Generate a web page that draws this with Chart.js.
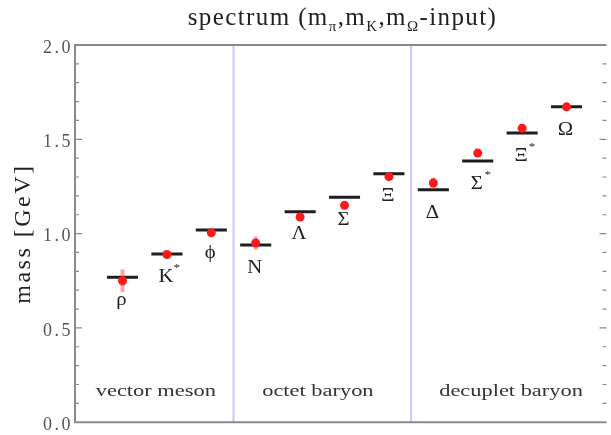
<!DOCTYPE html>
<html lang="en">
<head>
<meta charset="UTF-8">
<title>spectrum</title>
<script src="https://cdn.jsdelivr.net/npm/chart.js"></script>
<style>
  body { margin: 0; background: #fff; }
  #wrap { position: relative; width: 611px; height: 435px; }
  #title { position: absolute; left: 75px; width: 535px; top: 3px; text-align: center;
           font-family: "Liberation Serif", serif; font-size: 25px; color: #222; letter-spacing: 1.4px; }
  #title sub { font-size: 15px; }
</style>
</head>
<body>
<div id="wrap">
  <div id="title">spectrum (m<sub>π</sub>,m<sub>K</sub>,m<sub>Ω</sub>-input)</div>
  <canvas id="chart"></canvas>
</div>
<script>
const hadrons = ['ρ', 'K*', 'ϕ', 'N', 'Λ', 'Σ', 'Ξ', 'Δ', 'Σ*', 'Ξ*', 'Ω'];
const hadronPos = [1, 2, 3, 4, 5, 6, 7, 8, 9, 10, 11];
const expMass = [0.768, 0.892, 1.019, 0.939, 1.116, 1.193, 1.318, 1.232, 1.385, 1.533, 1.672];
const latMass = [0.750, 0.889, 1.004, 0.950, 1.088, 1.150, 1.302, 1.268, 1.427, 1.558, 1.672];
const latErr = [0.060, 0.008, 0.006, 0.035, 0.010, 0.012, 0.010, 0.030, 0.014, 0.012, 0.004];
const groups = ['vector meson', 'octet baryon', 'decuplet baryon'];
const groupPos = [1.75, 5.4, 9.75];
const dividers = [3.5, 7.5];
const yTicks = [0, 0.5, 1.0, 1.5, 2.0];

const SERIF = '"Liberation Serif", "Times New Roman", serif';

// experimental values: short horizontal segments
const barData = [];
hadronPos.forEach((x, i) => {
  barData.push({x: x - 0.35, y: expMass[i]}, {x: x + 0.35, y: expMass[i]}, {x: x, y: null});
});
// lattice error bars
const errData = [];
hadronPos.forEach((x, i) => {
  errData.push({x: x, y: latMass[i] - latErr[i]}, {x: x, y: latMass[i] + latErr[i]}, {x: x, y: null});
});
const divData = [];
dividers.forEach(x => {
  divData.push({x: x, y: 0}, {x: x, y: 2}, {x: x, y: null});
});

function stretchText(ctx, text, x, y, font, sx, align) {
  ctx.save();
  ctx.font = font;
  ctx.textAlign = align || 'center';
  ctx.textBaseline = 'middle';
  ctx.translate(x, y);
  ctx.scale(sx, 1);
  ctx.fillText(text, 0, 0);
  ctx.restore();
}

const decor = {
  id: 'decor',
  beforeDraw(chart) { chart.ctx.letterSpacing = '2.5px'; },
  afterDatasetsDraw(chart) {
    const {ctx, scales: {x, y}} = chart;
    ctx.letterSpacing = '0px';
    ctx.fillStyle = '#222';
    hadrons.forEach((name, i) => {
      const px = x.getPixelForValue(hadronPos[i]);
      const py = y.getPixelForValue(expMass[i]) + 23;
      const base = name.replace('*', '');
      stretchText(ctx, base, px - 1, py, '18px ' + SERIF, 1.15);
      if (name.endsWith('*')) {
        stretchText(ctx, '*', px + 10, py - 9, '11px ' + SERIF, 1.2);
      }
    });
    ctx.fillStyle = '#333';
    groups.forEach((g, i) => {
      stretchText(ctx, g, x.getPixelForValue(groupPos[i]), 392, '16px ' + SERIF, 1.4);
    });
  },
  afterDraw(chart) {
    const {ctx, chartArea: a, scales: {y}} = chart;
    ctx.save();
    ctx.strokeStyle = '#8a8a8a';
    ctx.lineWidth = 2;
    ctx.beginPath();
    ctx.moveTo(a.right, a.top); ctx.lineTo(a.left, a.top);
    ctx.lineTo(a.left, a.bottom); ctx.lineTo(a.right, a.bottom);
    ctx.stroke();
    ctx.lineWidth = 1.2;
    ctx.beginPath();
    for (let k = 1; k < 20; k++) {
      const py = y.getPixelForValue(k / 10);
      const len = k % 5 === 0 ? 7 : 4;
      ctx.moveTo(a.left, py); ctx.lineTo(a.left + len, py);
      ctx.moveTo(a.right, py); ctx.lineTo(a.right - len, py);
    }
    ctx.stroke();
    ctx.restore();
  }
};

new Chart(document.getElementById('chart'), {
  type: 'line',
  data: {
    datasets: [
      { data: divData, borderColor: '#c6c9ff', borderWidth: 2, pointRadius: 0, spanGaps: false, order: 4 },
      { data: barData, borderColor: '#1e1e1e', borderWidth: 3, pointRadius: 0, spanGaps: false, order: 3 },
      { data: errData, borderColor: 'rgba(255,50,50,0.45)', borderWidth: 4, pointRadius: 0, spanGaps: false, order: 2 },
      { type: 'scatter', data: latMass.map((m, i) => ({x: hadronPos[i], y: m})),
        backgroundColor: '#ff1a1a', borderColor: '#ff1a1a', pointRadius: 4.5, borderWidth: 0, order: 1 }
    ]
  },
  options: {
    responsive: true,
    maintainAspectRatio: false,
    animation: false,
    layout: { padding: { top: 45, bottom: 11, left: 0, right: 1 } },
    plugins: { legend: { display: false }, tooltip: { enabled: false } },
    scales: {
      x: { type: 'linear', min: -0.07, max: 11.9, display: false },
      y: {
        min: 0, max: 2,
        afterFit(s) { s.width = 75; },
        afterBuildTicks(s) { s.ticks = yTicks.map(v => ({value: v})); },
        grid: { display: false, drawTicks: false },
        border: { display: false },
        ticks: { padding: 2, labelOffset: 3, color: '#555',
                 font: { family: SERIF, size: 18 },
                 callback: v => v.toFixed(1) },
        title: { display: true, text: 'mass [GeV]', color: '#222',
                 font: { family: SERIF, size: 24 }, padding: { top: 9 } }
      }
    }
  },
  plugins: [decor]
});
</script>
</body>
</html>
